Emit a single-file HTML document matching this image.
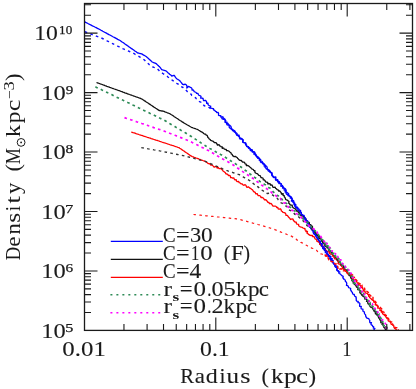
<!DOCTYPE html>
<html><head><meta charset="utf-8"><title>Density profile</title>
<style>html,body{margin:0;padding:0;background:#fff;}body{width:416px;height:389px;overflow:hidden;font-family:"Liberation Serif",serif;}svg{display:block;}</style>
</head><body>
<svg width="416" height="389" viewBox="0 0 416 389">
<rect x="0" y="0" width="416" height="389" fill="#ffffff"/>
<clipPath id="c"><rect x="84.5" y="3.5" width="328.0" height="326.9"/></clipPath>
<g clip-path="url(#c)" fill="none" stroke-linejoin="round">
<path d="M84.8,21.9 L85.7,22.4 L86.6,22.8 L87.5,23.3 L88.4,23.8 L89.3,24.2 L90.2,24.7 L91.1,25.1 L92.0,25.6 L93.0,26.1 L93.9,26.5 L94.8,27.0 L95.7,27.4 L96.6,27.9 L97.5,28.4 L98.4,28.8 L99.3,29.3 L100.2,29.8 L101.1,30.3 L102.0,30.7 L102.8,31.2 L103.7,31.7 L104.6,32.2 L105.5,32.7 L106.4,33.1 L107.2,33.6 L108.1,34.1 L109.0,34.6 L109.9,35.0 L110.8,35.5 L111.7,36.0 L112.5,36.5 L113.4,37.0 L114.3,37.4 L115.2,37.9 L116.1,38.4 L117.0,38.9 L117.8,39.4 L118.7,39.8 L119.6,40.3 L120.5,40.8 L121.3,41.4 L122.1,42.0 L123.0,42.5 L123.8,43.1 L124.6,43.7 L125.4,44.3 L126.3,44.9 L127.1,45.4 L127.9,46.0 L128.7,46.6 L129.6,47.2 L130.4,47.8 L131.2,48.4 L132.0,48.9 L132.9,49.5 L133.7,50.1 L134.5,50.7 L135.3,51.3 L136.2,51.8 L137.0,52.4 L137.8,53.0 L138.8,53.2 L139.8,53.5 L140.7,53.7 L141.7,53.9 L142.5,54.4 L143.3,54.9 L144.1,55.3 L144.9,55.8 L145.7,56.3 L146.5,56.8 L147.2,57.4 L147.9,58.1 L148.7,58.8 L149.4,59.4 L150.1,60.0 L150.9,60.7 L151.6,61.4 L152.3,62.0 L153.2,62.4 L154.2,62.8 L155.2,63.2 L156.1,63.6 L156.8,64.2 L157.5,64.9 L158.2,65.5 L158.9,66.2 L159.6,66.8 L160.3,67.7 L161.0,68.7 L161.7,69.6 L162.6,69.9 L163.5,70.2 L164.3,70.4 L165.2,70.7 L166.1,71.0 L166.8,71.6 L167.5,72.3 L168.2,72.9 L169.0,73.5 L169.6,74.3 L170.4,74.8 L171.1,75.3 L171.8,76.1 L172.9,75.7 L174.0,75.3 L174.7,76.0 L175.2,76.9 L175.7,77.6 L176.3,78.3 L177.0,79.0 L177.9,79.4 L178.7,80.0 L179.6,80.4 L180.2,81.4 L180.9,82.1 L181.5,82.8 L182.0,83.5 L182.6,84.3 L183.5,84.4 L183.9,84.8 L184.7,84.2 L185.8,84.4 L186.6,85.4 L187.0,86.1 L186.8,88.0 L188.0,86.9 L188.9,86.4 L189.8,87.1 L190.6,87.4 L191.6,88.0 L192.0,88.8 L192.0,90.0 L193.2,90.0 L193.8,90.6 L194.1,91.7 L195.1,92.0 L196.1,92.5 L196.6,93.4 L198.0,93.4 L198.3,94.6 L199.0,95.4 L200.1,95.7 L201.0,96.3 L200.7,98.1 L202.0,98.2 L203.1,98.5 L203.2,99.7 L203.7,100.7 L205.4,100.3 L206.1,101.0 L206.6,101.8 L206.6,103.3 L208.0,103.2 L208.0,104.6 L208.7,105.3 L209.6,105.8 L210.7,106.1 L210.4,107.8 L211.3,108.2 L212.4,108.5 L213.5,108.7 L213.7,110.0 L214.8,110.3 L215.3,111.3 L216.4,111.6 L216.7,112.7 L218.2,112.5 L218.6,113.5 L218.5,115.2 L219.3,115.7 L220.8,115.6 L220.8,117.0 L222.2,117.0 L221.9,118.6 L222.9,119.1 L224.0,119.5 L224.9,120.0 L225.8,120.5 L225.2,122.3 L227.1,122.1 L226.6,123.8 L227.0,124.8 L228.2,125.0 L229.4,125.3 L229.1,127.0 L229.6,127.9 L230.7,128.3 L231.7,128.8 L232.5,129.3 L233.3,130.1 L234.2,130.6 L234.2,132.0 L235.2,132.4 L236.3,132.9 L237.1,133.5 L237.0,135.0 L238.2,135.2 L238.6,136.2 L239.5,136.8 L239.5,138.2 L240.1,139.0 L242.0,138.7 L242.5,139.6 L243.0,140.6 L242.7,142.2 L243.7,142.7 L245.0,142.9 L245.9,143.4 L245.9,144.8 L246.4,145.8 L246.9,146.6 L248.4,146.6 L248.4,148.1 L249.3,148.6 L250.3,149.1 L250.3,150.5 L252.0,150.3 L252.0,151.7 L253.6,151.6 L254.2,152.5 L253.8,154.2 L255.5,154.0 L255.4,155.5 L256.3,156.1 L256.6,157.1 L258.0,157.3 L258.7,158.0 L259.4,158.7 L259.2,160.2 L260.3,160.7 L260.4,161.9 L261.1,162.6 L262.9,162.5 L262.9,163.8 L264.2,164.0 L264.9,164.7 L265.5,165.6 L265.0,167.3 L265.8,168.0 L266.3,168.8 L267.7,169.0 L267.9,170.1 L268.3,171.1 L269.5,171.3 L269.9,172.3 L271.0,172.6 L271.9,173.2 L272.3,174.1 L272.0,175.6 L273.1,176.0 L273.2,177.2 L274.5,177.3 L275.4,177.8 L275.3,179.2 L275.9,180.0 L277.7,179.7 L277.4,181.3 L278.9,181.3 L279.5,182.0 L279.0,183.7 L280.9,183.5 L281.2,184.5 L280.7,186.2 L282.1,186.4 L283.2,186.9 L283.7,187.8 L284.2,188.7 L284.1,190.0 L285.7,190.2 L285.0,191.9 L286.4,192.1 L286.1,193.6 L286.8,194.4 L288.4,194.5 L289.1,195.3 L289.3,196.3 L290.5,196.8 L290.2,198.2 L291.7,198.4 L292.3,199.2 L291.3,201.0 L292.9,201.2 L292.9,202.3 L293.7,203.0 L294.5,203.7 L295.4,204.2 L294.6,205.9 L295.1,206.7 L295.7,207.5 L297.6,207.3 L298.0,208.2 L297.9,209.4 L297.9,210.5 L299.2,210.8 L299.5,211.7 L300.1,212.5 L301.3,212.9 L301.5,214.1 L302.4,214.7 L303.1,215.5 L303.9,216.2 L304.2,217.2 L303.6,218.8 L305.1,219.1 L305.3,220.1 L305.9,221.0 L306.0,222.1 L307.4,222.4 L308.2,223.1 L308.7,224.0 L309.3,224.8 L309.0,226.2 L309.4,227.1 L310.9,227.4 L311.3,228.2 L311.5,229.3 L312.0,230.2 L312.5,231.0 L313.6,231.5 L314.5,232.2 L314.6,233.2 L315.5,233.9 L315.3,235.3 L316.6,235.6 L317.2,236.4 L316.9,237.9 L318.0,238.4 L317.8,239.8 L318.9,240.3 L318.8,241.5 L320.6,241.6 L320.5,242.9 L320.5,244.0 L322.2,244.1 L321.3,245.8 L323.0,245.9 L322.5,247.4 L322.7,248.4 L323.5,249.1 L324.8,249.5 L325.6,250.1 L325.5,251.4 L325.3,252.6 L326.9,252.8 L326.6,254.3 L328.4,254.2 L327.8,255.9 L329.8,255.7 L330.0,256.9 L329.7,258.3 L330.4,259.1 L330.7,260.1 L331.4,260.9 L332.1,261.7 L332.7,262.6 L334.1,263.0 L334.3,264.1 L335.3,264.8 L334.9,266.2 L335.5,267.1 L336.7,267.6 L337.6,268.3 L336.6,270.1 L337.4,270.9 L338.4,271.5 L338.9,272.4 L339.0,273.5 L340.2,273.9 L340.9,274.6 L341.5,275.3 L342.2,275.9 L343.2,276.4 L342.8,277.9 L343.7,278.4 L344.0,279.5 L345.3,280.0 L345.3,281.2 L346.1,281.9 L346.6,282.8 L346.8,283.8 L346.4,285.3 L347.7,285.7 L348.3,286.5 L348.6,287.6 L349.8,288.0 L350.7,288.5 L350.5,289.9 L351.2,290.7 L351.5,291.7 L352.4,292.3 L352.5,293.3 L353.0,294.2 L354.3,294.5 L354.4,295.6 L355.0,296.4 L356.0,296.9 L356.1,298.0 L356.3,299.0 L356.2,300.2 L356.6,301.1 L358.2,301.4 L358.0,302.6 L359.5,302.9 L359.9,303.8 L359.6,305.1 L359.6,306.3 L361.3,306.4 L361.0,307.9 L361.4,308.9 L362.9,309.2 L362.9,310.4 L363.1,311.5 L364.4,311.9 L364.4,313.2 L364.9,314.1 L365.6,314.9 L365.7,316.1 L366.2,317.1 L366.6,317.9 L367.7,318.3 L368.8,318.7 L369.2,319.6 L369.8,320.3 L369.7,321.5 L369.9,322.5 L371.5,322.6 L370.9,324.0 L371.4,324.9 L372.4,325.4 L372.7,326.3 L373.7,326.8 L373.3,328.2 L374.9,328.3 L373.8,330.1 L374.7,330.9" stroke="#0000ff" stroke-width="1.3"/>
<path d="M96.5,82.5 L97.4,82.8 L98.4,83.2 L99.3,83.5 L100.3,83.9 L101.2,84.2 L102.2,84.5 L103.1,84.9 L104.0,85.2 L105.0,85.6 L105.9,85.9 L106.9,86.3 L107.8,86.6 L108.8,86.9 L109.7,87.3 L110.7,87.6 L111.6,88.0 L112.5,88.3 L113.5,88.7 L114.4,89.0 L115.4,89.3 L116.3,89.7 L117.3,90.0 L118.2,90.4 L119.2,90.7 L120.1,91.0 L121.0,91.4 L122.0,91.7 L122.9,92.1 L123.9,92.4 L124.8,92.8 L125.8,93.1 L126.7,93.4 L127.6,93.8 L128.6,94.1 L129.5,94.5 L130.5,94.8 L131.4,95.1 L132.4,95.5 L133.3,95.8 L134.2,96.2 L135.2,96.5 L136.1,96.9 L137.1,97.2 L138.0,97.5 L139.0,97.9 L139.9,98.2 L140.9,98.6 L141.8,98.9 L142.6,99.5 L143.4,100.0 L144.3,100.6 L145.1,101.1 L145.9,101.7 L146.7,102.2 L147.6,102.8 L148.4,103.3 L149.2,103.9 L150.0,104.4 L150.9,105.0 L151.7,105.5 L152.5,106.1 L153.3,106.6 L154.2,107.2 L155.0,107.7 L155.8,108.3 L156.6,108.8 L157.5,109.4 L158.3,109.9 L159.1,110.5 L160.1,110.7 L161.1,110.9 L162.0,111.0 L163.0,111.2 L164.0,111.4 L164.9,111.8 L165.8,112.1 L166.7,112.5 L167.5,112.8 L168.4,113.2 L169.3,113.5 L170.2,113.9 L171.0,114.5 L171.9,115.0 L172.7,115.5 L173.5,116.1 L174.3,116.7 L175.2,117.2 L176.0,117.8 L176.8,118.3 L177.7,118.8 L178.5,119.4 L179.3,120.0 L180.1,120.5 L181.0,121.0 L181.8,121.6 L182.7,122.1 L183.5,122.6 L184.4,123.2 L185.3,123.7 L186.2,124.2 L187.0,124.7 L187.9,125.2 L188.8,125.7 L189.7,126.3 L190.5,126.8 L191.4,127.3 L192.4,127.6 L193.3,128.0 L194.3,128.3 L195.3,128.6 L196.2,129.0 L197.2,129.3 L198.0,129.8 L198.8,130.3 L199.7,130.8 L200.5,131.4 L201.4,131.8 L202.2,132.2 L203.0,132.8 L203.7,133.5 L204.5,134.1 L205.6,134.2 L206.2,135.1 L207.2,135.4 L207.6,136.5 L207.9,137.5 L208.7,138.1 L209.2,139.0 L210.1,139.5 L210.7,140.3 L211.6,140.7 L212.6,141.1 L213.6,141.4 L214.1,142.6 L215.3,142.6 L216.3,142.9 L216.9,143.9 L217.5,145.1 L219.0,144.6 L219.5,145.8 L220.6,146.1 L221.2,146.8 L222.3,146.8 L222.3,148.4 L223.7,148.0 L224.2,149.0 L225.1,149.3 L226.2,149.3 L226.5,150.6 L227.7,150.6 L228.6,151.0 L229.4,151.6 L230.1,152.3 L231.0,152.8 L231.3,154.0 L232.2,154.4 L232.6,155.6 L233.4,156.1 L234.1,156.7 L235.6,156.3 L236.3,157.2 L237.2,157.5 L237.7,158.5 L238.5,159.1 L239.1,159.9 L240.0,160.4 L241.2,160.5 L241.9,161.3 L242.6,162.1 L243.9,162.1 L244.7,162.8 L245.1,163.9 L246.2,164.2 L246.4,165.6 L247.7,165.5 L248.6,165.9 L249.3,166.5 L250.1,167.2 L250.9,167.7 L251.4,168.7 L252.3,169.1 L253.3,169.5 L253.8,170.5 L254.9,170.7 L254.9,172.2 L255.5,173.0 L256.5,173.4 L257.6,173.8 L258.2,174.6 L258.8,175.4 L260.2,175.6 L260.5,176.7 L261.1,177.5 L262.2,177.8 L263.1,178.3 L263.2,179.8 L264.4,179.9 L265.1,180.7 L265.5,181.9 L266.6,182.1 L267.7,182.4 L267.8,183.9 L269.2,183.7 L270.3,183.8 L270.5,185.2 L271.9,185.0 L272.5,185.8 L272.8,187.1 L273.7,187.4 L275.2,187.1 L275.5,188.2 L276.4,188.8 L277.1,189.6 L278.2,189.9 L278.6,191.0 L279.9,191.0 L280.5,191.9 L281.2,192.7 L281.4,194.0 L283.2,193.7 L282.9,195.2 L284.2,195.6 L284.2,196.8 L285.0,197.5 L285.4,198.4 L285.6,199.5 L286.7,199.9 L287.6,200.3 L288.3,201.0 L289.0,201.6 L288.7,203.2 L289.6,203.7 L289.9,204.7 L290.8,205.1 L292.2,205.1 L292.3,206.5 L292.9,207.4 L293.7,208.1 L294.7,208.5 L295.5,209.1 L296.2,210.0 L296.5,211.1 L297.9,211.2 L298.3,212.2 L299.1,212.8 L299.3,214.1 L300.2,214.6 L300.8,215.4 L301.7,215.9 L303.0,216.0 L303.8,216.6 L304.2,217.6 L305.2,218.0 L305.8,218.8 L306.2,219.8 L306.4,220.8 L307.4,221.2 L307.7,222.2 L309.2,222.3 L309.4,223.3 L309.2,224.7 L310.8,224.6 L311.0,225.7 L312.1,226.1 L312.6,227.1 L312.0,228.7 L312.4,229.6 L313.4,230.3 L314.7,230.8 L315.0,231.8 L315.6,232.5 L315.7,233.6 L316.3,234.3 L317.2,234.8 L317.7,235.6 L318.8,235.9 L318.8,237.0 L318.9,238.2 L319.8,238.8 L321.2,238.8 L321.3,240.0 L321.6,241.0 L322.8,241.3 L322.6,242.6 L323.7,243.0 L324.0,244.0 L325.0,244.5 L324.8,245.8 L325.7,246.4 L326.6,247.0 L327.7,247.3 L327.9,248.4 L329.0,248.8 L328.9,250.1 L329.2,251.1 L330.7,251.1 L330.9,252.2 L331.6,252.9 L332.3,253.5 L332.6,254.6 L332.9,255.5 L333.9,256.0 L334.8,256.5 L334.8,257.7 L336.2,257.8 L336.3,258.9 L337.0,259.5 L337.5,260.4 L338.0,261.2 L339.4,261.2 L339.6,262.4 L340.5,263.0 L340.8,264.1 L341.0,265.2 L342.1,265.7 L343.5,265.9 L343.6,267.2 L343.9,268.2 L344.3,269.2 L345.3,269.8 L345.7,270.7 L347.3,270.8 L346.8,272.5 L347.7,273.1 L348.4,273.8 L348.7,274.9 L349.3,275.7 L350.9,276.0 L350.6,277.4 L351.0,278.3 L352.3,278.9 L351.9,280.2 L352.5,281.0 L353.5,281.6 L353.1,283.0 L354.6,283.3 L354.6,284.5 L355.4,285.1 L356.2,285.7 L356.4,286.8 L357.1,287.5 L358.1,288.1 L357.7,289.7 L359.5,289.8 L360.2,290.7 L360.1,292.0 L360.3,293.2 L361.2,293.9 L361.7,294.9 L362.8,295.5 L363.2,296.5 L364.3,297.0 L365.0,297.8 L365.2,298.8 L366.4,299.2 L366.9,300.0 L366.5,301.4 L367.9,301.7 L367.7,303.0 L368.2,303.9 L369.2,304.3 L369.5,305.4 L370.0,306.3 L370.6,307.2 L372.1,307.3 L372.7,308.1 L373.1,309.2 L373.6,310.1 L374.5,310.7 L375.4,311.3 L375.4,312.6 L375.4,313.8 L376.8,314.1 L377.2,315.1 L378.0,315.8 L378.6,316.7 L378.5,317.9 L379.7,318.4 L379.7,319.6 L380.5,320.5 L380.9,321.4 L380.8,322.7 L382.5,323.0 L382.0,324.5 L383.3,324.9 L383.4,326.1 L383.7,327.1 L384.4,327.9 L385.3,328.5 L385.3,329.8 L386.9,330.1" stroke="#111111" stroke-width="1.3"/>
<path d="M131.2,132.0 L132.2,132.3 L133.1,132.6 L134.1,132.9 L135.0,133.2 L136.0,133.6 L136.9,133.9 L137.9,134.2 L138.8,134.5 L139.8,134.8 L140.7,135.1 L141.7,135.4 L142.6,135.7 L143.6,136.1 L144.6,136.4 L145.5,136.7 L146.5,137.0 L147.4,137.3 L148.4,137.6 L149.3,137.9 L150.3,138.2 L151.2,138.6 L152.2,138.9 L153.1,139.2 L154.1,139.5 L155.1,139.8 L156.0,140.1 L157.0,140.4 L157.9,140.7 L158.9,141.0 L159.8,141.4 L160.8,141.7 L161.7,142.0 L162.7,142.3 L163.6,142.6 L164.6,142.9 L165.5,143.2 L166.5,143.5 L167.5,143.9 L168.4,144.2 L169.4,144.5 L170.3,144.8 L171.3,145.1 L172.2,145.4 L173.2,145.7 L174.1,146.0 L175.1,146.4 L176.0,146.7 L177.0,147.0 L177.9,147.3 L178.9,147.6 L179.7,148.2 L180.6,148.7 L181.4,149.3 L182.2,149.9 L183.1,150.5 L183.9,151.0 L184.7,151.6 L185.6,152.2 L186.4,152.8 L187.2,153.3 L188.1,153.9 L188.9,154.5 L189.7,155.1 L190.6,155.6 L191.4,156.2 L192.3,156.6 L193.3,156.9 L194.2,157.3 L195.2,157.6 L196.2,158.0 L197.1,158.3 L198.1,158.7 L199.0,159.1 L199.9,159.4 L200.9,159.8 L201.8,160.1 L202.8,160.5 L203.8,160.8 L204.7,161.2 L205.6,161.8 L206.4,162.3 L207.3,162.8 L208.1,163.5 L209.1,163.7 L210.1,164.1 L210.8,165.0 L211.9,165.0 L212.7,165.6 L213.5,166.4 L214.2,167.2 L215.4,166.6 L216.4,166.6 L217.1,168.1 L218.2,167.4 L218.9,168.5 L219.8,168.6 L221.0,168.5 L221.7,169.3 L222.4,170.0 L223.0,170.9 L223.8,171.5 L224.7,172.1 L225.4,172.8 L225.8,173.9 L227.0,174.0 L227.9,174.6 L228.4,175.5 L229.6,175.5 L230.4,176.1 L230.6,177.6 L231.8,177.6 L232.6,178.2 L233.9,178.0 L234.3,179.1 L234.9,179.9 L236.2,179.7 L236.5,181.1 L237.3,181.7 L238.7,181.4 L239.2,182.7 L240.2,183.0 L241.0,183.8 L242.2,183.8 L242.8,184.8 L243.7,185.3 L245.1,184.7 L245.9,185.2 L246.4,186.6 L247.0,187.4 L248.4,186.8 L249.2,187.6 L249.9,188.2 L250.9,188.6 L251.6,189.3 L252.5,189.9 L253.1,190.7 L253.6,191.7 L254.7,192.0 L255.4,192.8 L255.7,193.9 L257.3,193.6 L257.7,194.9 L258.4,195.7 L259.7,195.7 L260.6,196.2 L261.0,197.6 L262.3,197.5 L263.2,198.0 L263.9,198.9 L264.5,199.9 L265.9,199.7 L266.5,200.6 L267.4,201.2 L267.8,202.4 L269.0,202.5 L269.5,203.7 L271.0,203.4 L271.7,204.2 L272.3,205.2 L273.0,206.1 L274.2,206.1 L275.3,206.2 L276.2,206.5 L276.7,207.5 L277.8,207.5 L278.2,208.8 L279.0,209.2 L280.4,208.8 L281.1,209.6 L281.4,211.0 L282.3,211.5 L283.0,212.4 L284.3,212.6 L285.3,213.1 L285.8,214.0 L286.0,215.3 L287.3,215.4 L287.9,216.2 L288.5,217.0 L289.2,217.7 L289.9,218.4 L290.5,219.5 L292.0,218.9 L293.1,219.1 L293.5,220.9 L294.4,221.2 L295.0,222.1 L296.3,222.2 L296.4,223.5 L297.1,224.2 L298.6,224.3 L298.7,225.6 L299.3,226.5 L300.3,226.8 L301.3,227.2 L302.3,227.4 L303.0,228.0 L304.0,228.3 L305.0,228.7 L305.0,230.0 L306.0,230.4 L305.9,231.6 L307.5,231.5 L307.0,233.2 L307.9,233.6 L308.5,234.4 L309.4,234.9 L310.2,235.4 L311.2,235.5 L312.5,235.3 L312.7,236.7 L314.0,236.7 L314.6,237.6 L314.9,238.7 L315.8,239.2 L316.7,239.8 L316.8,241.2 L317.8,241.6 L318.8,242.1 L319.6,242.8 L319.6,244.3 L320.7,244.7 L321.1,245.8 L322.3,246.0 L323.2,246.4 L323.6,247.5 L324.1,248.5 L325.5,248.4 L325.6,249.8 L326.2,250.6 L327.1,251.1 L327.8,251.8 L329.4,251.6 L329.5,253.0 L329.9,254.0 L331.6,253.8 L332.1,254.7 L332.7,255.5 L333.0,256.5 L333.8,257.1 L334.3,257.9 L334.6,258.9 L336.2,258.8 L336.7,259.6 L337.3,260.4 L337.9,261.2 L338.5,261.9 L338.0,263.5 L338.8,264.1 L340.3,264.1 L340.4,265.3 L341.2,265.8 L341.9,266.6 L342.5,267.5 L342.7,268.5 L343.5,269.3 L344.4,269.9 L345.2,270.5 L345.7,271.4 L346.7,271.8 L347.0,272.9 L347.7,273.8 L348.8,274.0 L349.9,274.3 L350.6,275.2 L351.2,276.1 L351.7,277.1 L352.2,278.1 L353.4,278.3 L353.7,279.5 L354.7,280.1 L355.6,280.6 L356.4,281.3 L356.9,282.1 L357.3,283.0 L358.2,283.5 L358.5,284.5 L359.4,284.9 L360.3,285.4 L360.6,286.4 L361.0,287.3 L362.4,287.4 L362.6,288.5 L363.2,289.2 L363.3,290.4 L363.8,291.2 L365.1,291.3 L365.1,292.6 L365.9,293.2 L367.2,293.3 L367.7,294.3 L368.7,294.6 L368.5,296.1 L369.3,296.6 L369.7,297.6 L370.4,298.2 L371.2,298.8 L371.7,299.6 L372.5,300.2 L373.7,300.6 L373.7,302.0 L375.1,302.3 L375.5,303.3 L375.2,304.8 L376.8,305.0 L377.3,305.9 L378.0,306.6 L377.7,308.2 L379.2,308.2 L380.1,308.8 L379.8,310.4 L381.4,310.4 L381.2,311.9 L382.1,312.4 L382.6,313.4 L383.0,314.2 L384.1,314.6 L384.4,315.5 L386.0,315.5 L385.7,317.0 L386.6,317.5 L386.9,318.5 L388.3,318.8 L388.1,320.2 L388.5,321.2 L390.2,321.2 L390.5,322.3 L390.9,323.4 L391.2,324.4 L392.6,324.6 L393.3,325.4 L393.8,326.2 L394.0,327.4 L394.5,328.3 L395.6,328.8 L396.2,329.6 L396.8,330.5" stroke="#ff0000" stroke-width="1.3"/>
<path d="M84.8,31.8 L86.2,32.3 L87.5,32.8 L88.9,33.3 L90.3,33.8 L91.6,34.3 L93.0,34.9 L94.4,35.4 L95.7,35.9 L97.1,36.4 L98.5,36.9 L99.8,37.4 L101.2,37.9 L102.5,38.5 L103.7,39.2 L105.0,39.8 L106.2,40.4 L107.5,41.1 L108.8,41.7 L110.0,42.3 L111.3,43.0 L112.6,43.6 L113.8,44.2 L115.1,44.8 L116.4,45.5 L117.6,46.1 L118.9,46.7 L120.1,47.4 L121.4,48.0 L122.7,48.6 L124.0,49.1 L125.2,49.7 L126.5,50.2 L127.8,50.8 L129.1,51.3 L130.3,51.9 L131.6,52.4 L132.9,53.0 L134.2,53.7 L135.4,54.5 L136.7,55.2 L137.9,55.9 L139.2,56.6 L140.4,57.3 L141.7,58.1 L143.0,58.8 L144.1,59.8 L145.2,60.8 L146.2,61.8 L147.3,62.8 L148.4,63.8 L149.4,64.8 L150.5,65.7 L151.6,66.7 L152.9,67.0 L154.1,67.4 L155.4,67.8 L156.7,68.1 L157.8,69.2 L158.8,70.3 L159.9,71.4 L161.0,72.5 L162.3,73.2 L163.6,74.0 L164.8,74.7 L166.1,75.4 L167.2,76.3 L168.2,77.2 L169.3,78.1 L170.4,79.0 L171.5,79.7 L172.6,80.4 L173.6,81.1 L174.7,81.9 L175.7,82.5 L176.7,83.3 L177.8,83.9 L178.8,84.7 L179.8,85.5 L180.9,86.2 L181.9,87.0 L183.1,87.5 L184.1,88.2 L184.9,89.3 L185.9,90.1 L186.8,91.0 L187.7,91.9 L188.6,93.0 L189.8,93.6 L191.1,94.2 L191.8,95.4 L193.1,96.0 L194.1,96.9 L195.3,97.6 L196.2,98.6 L197.4,99.4 L198.6,100.3 L199.5,101.6 L200.9,102.2 L201.6,103.6 L203.1,104.0 L203.9,105.5 L205.2,106.1 L206.7,106.5 L207.9,107.3 L209.4,107.6 L210.6,108.6 L212.0,108.9" stroke="#1010ff" stroke-width="1.45" stroke-dasharray="2.6 3.3"/>
<path d="M222.3,116.5 L223.1,117.1 L223.3,118.2 L224.3,118.7 L225.1,119.3 L225.2,120.5 L225.1,121.9 L225.9,122.6 L226.6,123.3 L228.1,123.4 L228.2,124.5 L229.3,125.0 L230.1,125.6 L230.8,126.3 L231.3,127.2 L231.0,128.9 L231.8,129.5 L232.5,130.2 L233.2,131.0 L234.8,130.9 L235.3,131.8 L235.6,133.0 L236.1,133.9 L236.6,134.8 L237.3,135.6 L239.1,135.2 L239.1,136.7 L239.6,137.5 L240.6,138.1 L241.7,138.4 L242.0,139.5 L243.3,139.8 L242.7,141.7 L243.5,142.3 L244.6,142.7 L245.7,143.1 L245.5,144.7 L246.6,145.0 L246.9,146.1 L247.6,146.9 L248.8,147.2 L249.6,147.8 L250.0,148.8 L251.0,149.3 L252.1,149.7 L252.5,150.7 L252.5,152.1 L254.3,151.8 L255.0,152.6 L254.8,154.1 L256.0,154.4 L256.3,155.5 L257.1,156.2 L258.0,156.8 L257.7,158.4 L259.6,158.1 L259.9,159.2 L260.8,159.7 L260.8,161.0 L262.0,161.4 L262.5,162.3 L262.6,163.5 L263.9,163.8 L264.1,164.9 L264.2,166.1 L266.1,165.9 L266.8,166.6 L267.2,167.6 L267.0,169.1 L267.9,169.7 L269.1,170.0 L269.6,170.8 L270.5,171.4 L270.7,172.5 L271.9,172.6 L271.6,174.2 L271.9,175.2 L272.5,176.1 L273.4,176.5 L273.7,177.5 L275.8,177.0 L276.0,178.1 L275.6,179.8 L276.6,180.2 L277.8,180.5 L277.6,181.9 L278.7,182.2 L279.0,183.2 L280.5,183.3 L281.3,183.9 L281.5,185.1 L282.6,185.5 L282.8,186.6 L282.5,188.1 L284.1,188.2 L285.2,188.7 L285.8,189.5 L286.2,190.5 L285.8,192.1 L287.1,192.4 L287.8,193.1 L288.7,193.7 L287.9,195.6 L289.4,195.8 L290.4,196.3 L291.2,197.0 L291.8,197.8 L292.1,198.8 L291.8,200.2 L293.2,200.5 L293.9,201.2 L293.7,202.5 L294.7,203.1 L293.9,204.7 L295.9,204.6 L295.8,205.8 L296.0,206.8 L297.1,207.2 L296.8,208.6 L298.2,208.8 L299.1,209.2 L299.4,210.2 L300.6,210.5 L300.5,211.7 L301.4,212.4 L300.9,213.9 L301.6,214.7 L302.7,215.2 L304.1,215.5 L304.3,216.6 L304.9,217.5 L305.5,218.3 L306.0,219.1 L305.5,220.7 L307.3,220.7 L308.0,221.4 L307.2,223.3 L308.3,223.7 L308.2,225.0 L309.8,225.2 L309.4,226.6 L310.4,227.2 L310.7,228.2 L311.3,229.0 L312.2,229.5 L313.4,230.0 L313.7,230.9 L313.1,232.5 L313.6,233.4 L314.1,234.3 L315.7,234.5 L315.7,235.7 L316.0,236.7 L316.9,237.4 L317.2,238.4 L318.2,238.9 L318.6,239.9 L319.1,240.8 L320.4,241.2 L319.9,242.8 L320.3,243.6 L322.3,243.6 L321.3,245.3 L321.8,246.2 L322.8,246.7 L324.4,246.9 L323.4,248.7 L325.2,248.7 L324.3,250.4 L325.3,251.0 L326.8,251.2 L327.2,252.1 L327.0,253.5 L327.7,254.2 L328.0,255.2 L328.4,256.3 L330.1,256.2 L331.1,256.8 L330.2,258.7 L332.3,258.6 L331.4,260.4 L333.2,260.5 L332.6,262.1 L333.2,263.0 L333.6,264.0 L334.7,264.6 L334.7,265.8 L336.4,266.0 L336.1,267.4 L337.2,268.0 L336.8,269.4 L337.5,270.2 L338.6,270.8 L339.0,271.8 L340.4,272.2" stroke="#0000ff" stroke-width="1.3"/>
<path d="M141.3,147.6 L142.7,147.9 L144.1,148.1 L145.5,148.4 L147.0,148.6 L148.4,148.9 L149.8,149.1 L151.2,149.4 L152.6,149.6 L154.0,149.9 L155.4,150.1 L156.8,150.4 L158.3,150.6 L159.7,150.9 L161.1,151.1 L162.5,151.4 L163.9,151.7 L165.3,152.0 L166.6,152.2 L168.0,152.5 L169.4,152.8 L170.8,153.1 L172.2,153.4 L173.5,153.6 L174.9,153.9 L176.3,154.2 L177.7,154.5 L179.0,154.7 L180.4,155.0 L181.8,155.3 L183.1,155.6 L184.4,155.9 L185.7,156.3 L187.0,156.6 L188.2,156.9 L189.5,157.2 L190.8,157.6 L192.1,157.9 L193.4,158.2 L194.8,158.6 L196.2,158.9 L197.6,159.3 L199.1,159.7 L200.5,160.1 L201.9,160.4 L203.3,160.8 L204.7,161.2 L206.0,161.7 L207.3,162.3 L208.5,162.8 L209.8,163.4 L211.1,163.9 L212.4,164.5 L213.6,165.0 L214.9,165.6 L216.2,166.1 L217.5,166.6 L218.8,167.2 L220.1,167.7 L221.4,168.2 L222.6,168.8 L223.9,169.3 L225.2,169.8 L226.5,170.4 L227.8,170.9 L229.1,171.3 L230.4,171.7 L231.7,172.2 L233.0,172.6 L234.2,173.0 L235.5,173.4 L236.8,173.9 L238.1,174.3 L239.4,174.7 L240.6,175.4 L241.8,176.1 L243.0,176.8 L244.1,177.5 L245.4,178.1 L246.5,178.9 L247.8,179.5 L249.0,180.2 L250.0,180.9 L250.7,182.0 L251.9,182.5 L253.1,183.4 L254.2,184.2 L255.2,185.3 L256.7,185.6 L257.6,186.6 L258.6,187.4 L259.5,188.4 L260.5,189.2 L261.6,190.2 L263.0,190.6 L263.9,191.6 L265.2,192.0 L266.1,193.0 L267.3,193.5 L269.1,193.2 L270.5,193.8 L271.9,194.5 L273.1,195.3 L274.2,196.4 L275.3,197.3 L276.5,197.9 L277.6,198.6 L278.2,199.8 L279.1,200.7 L280.2,201.7 L281.1,202.8 L282.5,203.4 L283.5,204.1 L284.4,205.0 L285.3,205.9 L286.8,206.2 L287.1,207.8 L288.1,208.5 L288.9,209.5 L289.9,210.4 L291.2,210.9 L292.4,211.9 L293.8,212.7 L294.6,214.2 L296.1,214.6 L297.1,215.5 L298.1,216.5 L299.2,217.4 L300.1,218.5 L301.4,219.1 L302.4,220.0 L303.3,221.1 L304.3,221.9 L305.1,223.1 L306.4,223.7 L306.7,225.4 L307.9,226.1 L309.3,226.6 L310.3,227.5 L311.3,228.5 L312.3,229.4 L313.6,230.1 L314.1,231.6 L315.0,232.6 L316.3,233.2 L317.1,234.2 L318.3,234.9 L319.1,235.9 L319.7,237.1 L320.8,238.2 L321.2,239.8 L322.8,240.5 L323.9,241.6 L324.0,243.5" stroke="#333333" stroke-width="1.4" stroke-dasharray="2.6 3.3"/>
<path d="M193.5,214.5 L194.9,214.6 L196.3,214.8 L197.7,214.9 L199.1,215.1 L200.4,215.2 L201.8,215.3 L203.2,215.5 L204.6,215.6 L206.0,215.8 L207.4,215.9 L208.8,216.0 L210.2,216.2 L211.6,216.3 L212.9,216.4 L214.3,216.6 L215.7,216.7 L217.1,216.9 L218.5,217.0 L219.9,217.1 L221.3,217.3 L222.6,217.4 L224.0,217.6 L225.4,217.7 L226.8,217.9 L228.2,218.0 L229.5,218.1 L230.9,218.3 L232.3,218.4 L233.7,218.6 L235.0,218.7 L236.4,218.9 L237.8,219.0 L239.2,219.4 L240.6,219.7 L241.9,220.1 L243.3,220.5 L244.7,220.8 L246.1,221.2 L247.5,221.6 L248.8,222.0 L250.2,222.3 L251.6,222.7 L252.9,223.1 L254.2,223.4 L255.4,223.8 L256.7,224.1 L258.0,224.5 L259.3,224.8 L260.5,225.2 L261.8,225.5 L263.1,225.9 L264.5,226.3 L265.9,226.7 L267.3,227.1 L268.6,227.6 L270.0,228.0 L271.4,228.4 L272.8,228.8 L274.2,229.3 L275.5,229.9 L276.9,230.4 L278.3,231.0 L279.7,231.5 L281.0,232.1 L282.4,232.6 L283.7,233.1 L285.1,233.7 L286.4,234.2 L287.8,234.8 L289.1,235.3 L290.5,235.8 L291.8,236.4 L292.9,237.1 L293.9,237.9 L295.0,238.7 L296.2,239.2 L297.1,240.1 L298.5,240.7 L299.8,241.2 L300.8,242.4 L302.2,242.9 L303.6,243.6 L304.9,244.6 L306.4,245.3 L307.7,246.0 L309.1,246.6 L310.5,247.2 L311.7,248.2 L313.1,248.5 L314.5,249.0 L315.8,249.8 L317.0,250.7 L317.8,252.1 L319.1,252.8 L320.2,253.9 L321.8,254.0 L323.1,254.7 L324.3,255.6 L326.0,255.1 L327.0,255.8 L327.8,256.8" stroke="#ff1818" stroke-width="1.25" stroke-dasharray="2.5 3.4"/>
<path d="M95.4,86.8 L96.6,87.4 L97.9,88.0 L99.1,88.6 L100.4,89.2 L101.6,89.8 L102.9,90.4 L104.1,91.0 L105.3,91.6 L106.6,92.2 L107.8,92.8 L109.1,93.4 L110.3,94.0 L111.6,94.6 L112.8,95.2 L114.0,95.9 L115.3,96.5 L116.5,97.1 L117.8,97.7 L119.0,98.3 L120.3,98.9 L121.5,99.5 L122.7,100.1 L124.0,100.7 L125.2,101.3 L126.5,101.9 L127.7,102.5 L129.0,103.1 L130.2,103.7 L131.5,104.3 L132.7,104.9 L134.0,105.5 L135.2,106.1 L136.5,106.7 L137.7,107.3 L139.0,108.0 L140.2,108.6 L141.5,109.2 L142.7,109.8 L144.0,110.4 L145.2,111.0 L146.5,111.6 L147.7,112.2 L149.0,112.8 L150.2,113.4 L151.5,114.0 L152.7,114.6 L154.0,115.2 L155.2,115.8 L156.5,116.5 L157.7,117.1 L159.0,117.7 L160.2,118.3 L161.5,118.9 L162.7,119.5 L164.0,120.1 L165.2,120.8 L166.4,121.5 L167.6,122.3 L168.8,123.0 L170.0,123.7 L171.2,124.4 L172.4,125.1 L173.6,125.9 L174.8,126.6 L176.0,127.3 L177.3,128.0 L178.5,128.7 L179.7,129.4 L180.9,130.2 L182.1,130.9 L183.3,131.6 L184.5,132.3 L185.7,133.0 L186.9,133.8 L188.1,134.5 L189.3,135.2 L190.5,136.0 L191.7,136.8 L192.9,137.6 L194.1,138.3 L195.3,139.1 L196.5,139.9 L197.7,140.7 L198.9,141.5 L200.1,142.3 L201.3,143.1 L202.5,143.9 L203.7,144.7 L204.9,145.4 L206.1,146.2 L207.3,147.0 L208.5,147.8 L209.7,148.5 L210.9,149.1 L212.1,149.8 L213.3,150.4 L214.5,151.1 L215.7,151.8 L216.9,152.4 L218.1,153.1 L219.3,153.7 L220.5,154.4 L221.7,155.0 L222.9,155.7 L224.1,156.5 L225.3,157.3 L226.5,158.1 L227.7,158.8 L228.9,159.6 L230.1,160.4 L231.3,161.2 L232.5,162.0 L233.7,162.7 L234.9,163.4 L236.1,164.2 L237.3,164.9 L238.6,165.6 L239.8,166.4 L241.0,167.1 L242.2,167.8 L243.3,168.7 L244.4,169.6 L245.5,170.5 L246.7,171.3 L247.8,172.2 L248.9,173.1 L250.0,174.0 L251.2,174.8 L252.4,175.7 L253.6,176.5 L254.8,177.4 L256.0,178.2 L257.3,179.0 L258.4,180.0 L259.5,181.1 L260.7,182.0 L262.0,182.8 L263.3,183.6 L264.6,184.4 L265.8,185.0 L266.8,185.8 L267.6,186.9 L268.6,187.6 L270.0,188.0 L270.7,189.3 L271.7,190.3 L272.8,191.3 L273.8,192.3 L274.8,193.4 L276.1,194.1 L276.8,195.3 L278.2,195.8 L279.0,196.9 L279.8,198.0 L280.8,198.9 L282.2,199.4 L282.7,201.1 L284.0,201.9 L285.2,202.9 L286.7,203.5 L287.4,205.0 L288.8,205.7 L289.7,207.0 L291.1,207.7 L292.1,208.9 L293.2,209.7 L294.1,210.7 L295.4,211.2 L296.2,212.4 L297.1,213.4 L298.0,214.4 L299.6,214.9 L300.3,216.4 L301.4,217.4 L302.7,218.2 L303.6,219.4 L304.6,220.5 L306.0,221.2 L307.0,222.3 L308.3,223.1 L308.7,224.7 L309.6,225.9 L311.0,226.6 L311.8,227.8 L312.8,228.9 L313.8,230.0 L315.3,230.7 L315.7,232.2 L316.8,233.1 L317.5,234.1 L318.6,234.9 L319.2,236.1 L319.9,237.2 L321.0,238.3 L321.9,239.6 L323.5,240.2 L324.4,241.5 L325.1,243.0" stroke="#2e8b57" stroke-width="1.7" stroke-dasharray="2.6 3.3"/>
<path d="M124.5,117.6 L125.8,118.1 L127.2,118.5 L128.5,119.0 L129.8,119.4 L131.2,119.9 L132.5,120.3 L133.8,120.8 L135.2,121.2 L136.5,121.7 L137.8,122.1 L139.2,122.6 L140.5,123.0 L141.8,123.5 L143.2,123.9 L144.5,124.4 L145.8,124.9 L147.2,125.3 L148.5,125.8 L149.8,126.2 L151.2,126.7 L152.5,127.1 L153.8,127.6 L155.2,128.0 L156.5,128.5 L157.8,128.9 L159.2,129.4 L160.5,129.8 L161.8,130.3 L163.2,130.7 L164.5,131.2 L165.8,131.7 L167.1,132.2 L168.4,132.7 L169.7,133.3 L171.0,133.8 L172.3,134.3 L173.6,134.8 L174.9,135.3 L176.2,135.8 L177.6,136.4 L178.9,136.9 L180.2,137.4 L181.5,137.9 L182.8,138.4 L184.1,138.9 L185.4,139.5 L186.7,140.0 L188.0,140.5 L189.3,141.0 L190.6,141.6 L191.9,142.3 L193.1,142.9 L194.4,143.6 L195.7,144.2 L197.0,144.8 L198.3,145.5 L199.5,146.1 L200.8,146.8 L202.1,147.4 L203.4,148.0 L204.7,148.7 L205.9,149.3 L207.2,150.0 L208.5,150.6 L209.8,151.3 L211.0,152.1 L212.3,152.8 L213.5,153.5 L214.8,154.3 L216.0,155.0 L217.3,155.8 L218.5,156.5 L219.8,157.2 L221.0,158.0 L222.3,158.7 L223.6,159.4 L224.9,160.1 L226.1,160.9 L227.4,161.6 L228.7,162.3 L229.9,163.1 L231.2,163.8 L232.5,164.5 L233.6,165.3 L234.8,166.1 L235.9,166.9 L237.0,167.7 L238.2,168.5 L239.3,169.2 L240.5,170.0 L241.6,170.8 L242.7,171.6 L243.9,172.4 L245.0,173.2 L246.2,174.0 L247.5,174.8 L248.8,175.7 L250.0,176.5 L251.2,177.2 L252.4,178.0 L253.6,178.8 L254.8,179.6 L255.9,180.5 L256.9,181.5 L258.1,182.4 L259.3,183.2 L260.4,184.2 L261.5,185.1 L262.7,185.7 L263.6,186.5 L264.7,187.2 L265.6,188.3 L266.9,188.8 L267.8,189.8 L268.7,190.9 L269.9,191.7 L271.3,192.1 L272.2,193.1 L273.5,193.6 L274.6,194.5 L275.7,195.4 L276.6,196.5 L277.6,197.4 L279.2,197.6 L280.4,198.4 L281.0,199.9 L282.4,200.6 L283.4,201.4 L283.9,203.0 L285.5,203.2 L286.0,204.6 L287.2,205.2 L287.7,206.6 L288.7,207.4 L290.2,207.6 L291.2,208.6 L291.7,210.1 L293.1,210.7 L294.3,211.4 L295.1,212.6 L296.0,213.5 L297.2,214.1 L298.2,214.9 L299.5,215.5 L300.2,216.6 L301.3,217.3 L301.9,218.6 L302.9,219.6 L304.3,220.2 L304.9,221.6 L306.3,222.2 L307.3,223.2 L307.9,224.6 L309.0,225.5 L309.8,226.8 L311.2,227.5 L312.3,228.5 L313.9,228.9 L314.5,230.5 L316.3,230.7 L317.0,232.1 L317.6,233.3 L318.4,234.3 L319.3,235.3 L320.5,236.0 L321.1,237.1 L322.0,238.4 L323.6,239.1 L323.8,240.9 L324.8,242.1 L326.2,243.0" stroke="#ff00ff" stroke-width="1.7" stroke-dasharray="2.6 3.3"/>
<path d="M324.4,243.2 L324.8,244.7 L325.5,246.0 L327.4,246.5 L327.6,248.2 L328.5,249.3 L329.5,250.4 L331.1,250.7 L332.0,251.6 L332.4,253.0 L332.8,254.4 L334.3,254.7 L334.8,256.0 L336.0,256.9 L336.3,258.7 L337.2,259.9 L338.9,260.4 L339.1,262.3 L341.3,262.3 L341.1,264.2 L341.8,265.4 L343.7,265.6 L343.8,267.3 L344.8,268.3 L345.1,269.8 L347.0,270.0 L347.3,271.5 L347.7,273.0 L348.9,273.8 L350.2,274.5 L351.4,275.6 L351.0,277.8 L352.4,278.8 L352.1,280.6 L354.1,281.3 L353.7,283.3 L354.6,284.5 L355.4,285.8 L357.6,286.0 L358.0,287.6 L359.2,288.3 L358.9,290.1 L360.2,290.8 L360.0,292.5 L361.6,293.0 L361.9,294.5 L362.6,295.7 L364.3,296.0 L364.7,297.5 L365.0,299.1 L366.4,299.8 L367.5,300.9 L368.5,302.0 L368.5,303.7 L370.2,304.3 L370.5,305.8 L371.4,306.8 L372.3,307.9 L373.7,308.5 L373.8,310.2 L374.3,311.6 L376.0,312.1 L376.9,313.2 L376.9,315.0 L378.2,315.8 L379.5,316.7 L380.6,317.8 L380.2,319.7 L381.5,320.7 L382.0,322.2 L383.0,323.3 L383.1,324.8 L383.7,326.1 L385.1,326.9 L386.2,327.8 L385.5,329.9 L386.4,331.0" stroke="#2a2a2a" stroke-width="1.5" stroke-dasharray="2.2 2.2"/>
<path d="M325.1,254.4 L325.4,255.9 L326.7,256.2 L327.9,256.8 L328.3,258.6 L329.2,260.1 L330.4,260.8 L331.6,261.5 L333.0,261.8 L334.2,262.5 L334.9,264.0 L336.5,264.1 L337.2,265.3 L337.6,266.6 L338.1,268.0 L338.7,269.4 L341.0,268.8 L342.4,269.3 L343.2,270.7 L344.5,270.8 L346.1,270.6 L346.8,271.9 L347.6,273.0 L348.6,273.7 L350.4,273.6 L351.3,274.5 L352.6,275.0 L352.3,277.4 L354.3,277.2 L354.6,278.9 L355.8,279.6 L356.7,280.6 L357.8,281.4 L358.2,282.8 L359.4,283.5 L360.7,284.1 L361.8,284.9 L362.1,286.4 L362.5,288.1 L364.6,288.3 L364.8,290.1 L365.9,291.2 L367.6,291.7 L368.4,292.7 L368.6,294.3 L369.9,294.9 L370.8,295.9 L371.6,297.0 L373.0,297.5 L372.9,299.3 L374.0,300.2 L374.9,301.4 L376.0,302.4 L376.1,304.2 L376.9,305.4 L378.2,306.4 L379.8,306.7 L380.6,307.7 L381.5,308.7 L382.5,309.6 L382.5,311.3 L383.5,312.1 L384.9,312.6 L384.8,314.6 L386.1,315.4 L386.7,316.7 L387.6,317.9 L388.7,319.0 L389.9,320.0 L390.1,321.8 L392.4,322.1 L392.4,323.9 L393.0,325.2 L394.5,325.8 L394.9,327.4 L396.8,327.7 L397.4,329.2 L398.6,330.3" stroke="#ff0808" stroke-width="1.5" stroke-dasharray="3.2 1.4"/>
<path d="M324.3,243.6 L326.7,243.6 L326.4,245.6 L328.2,246.1 L327.8,248.3 L330.2,248.2 L329.7,250.5 L330.9,251.2 L331.5,252.4 L332.1,253.6 L334.1,253.5 L334.8,254.6 L335.1,256.1 L336.7,256.7 L337.8,257.8 L338.8,258.9 L338.9,260.8 L339.8,262.0 L340.8,263.0 L342.5,263.3 L342.3,265.3 L343.8,265.8 L345.1,266.6 L345.6,267.9 L346.5,269.0 L347.8,269.7 L347.9,271.3 L349.1,272.2 L349.6,273.5 L349.8,275.0 L351.2,276.0 L352.5,277.1 L352.3,278.9 L352.6,280.4 L354.2,281.4 L354.0,283.3 L356.5,283.4 L357.2,284.7 L358.0,285.9 L357.7,288.0 L358.8,288.8 L359.5,289.9 L360.9,290.5 L361.3,291.8 L361.4,293.4 L363.5,293.5 L364.3,294.6 L365.3,295.6 L365.5,297.2 L365.7,298.8 L367.0,299.7 L368.1,300.7 L368.7,302.0 L370.1,302.8 L369.7,304.9 L371.5,305.3 L372.5,306.2 L373.2,307.4 L373.3,309.1 L374.9,309.6 L374.9,311.4 L376.6,311.9 L377.3,313.2 L378.8,313.9 L378.3,316.0 L379.3,317.0 L380.5,318.0 L381.8,319.0 L381.9,320.7 L382.7,321.9 L382.6,323.6 L383.2,324.9 L384.3,325.9 L385.8,326.6 L386.9,327.6 L386.2,329.6 L386.8,330.9" stroke="#2e8b57" stroke-width="2.0" stroke-dasharray="2.6 1.6"/>
<path d="M326.3,242.8 L327.0,244.1 L328.0,245.2 L328.8,246.4 L329.8,247.6 L330.3,249.0 L331.8,249.7 L332.0,251.1 L333.8,251.3 L334.2,252.6 L335.0,253.6 L336.2,254.4 L336.1,256.1 L337.8,256.7 L338.1,258.5 L338.8,259.8 L340.9,260.0 L340.9,262.0 L341.9,263.0 L342.9,263.9 L344.8,264.2 L345.0,265.8 L345.6,267.1 L346.9,267.7 L347.9,268.7 L348.6,269.9 L349.5,271.0 L349.5,272.7 L351.0,273.2 L351.7,274.4 L352.3,276.0 L352.6,277.6 L354.4,278.4 L355.5,279.6 L354.4,281.8 L355.3,283.1 L356.3,284.3 L357.7,285.2 L359.0,286.0 L360.1,287.1 L360.5,288.4 L361.0,289.6 L362.4,290.3 L362.1,292.0 L362.7,293.2 L364.7,293.4 L364.3,295.5 L365.7,296.1 L365.8,297.7 L367.4,298.4 L367.7,299.9 L369.1,300.7 L369.6,302.1 L370.7,303.2 L372.3,303.8 L372.9,305.1 L373.6,306.2 L374.2,307.5 L375.1,308.6 L375.7,309.9 L376.3,311.1 L377.6,311.9 L378.6,313.0 L379.2,314.4 L379.3,316.0 L380.4,317.0 L381.3,318.2 L381.7,319.6 L383.4,320.4 L384.3,321.6 L385.0,322.9 L385.7,324.1 L386.6,325.1 L386.3,327.0 L386.5,328.5 L388.6,328.8 L388.4,330.6" stroke="#ff00ff" stroke-width="1.8" stroke-dasharray="2.0 2.8"/>
</g>
<g stroke="#1a1a1a" stroke-width="1.1" fill="none">
<rect x="84.5" y="3.5" width="328.0" height="326.9" stroke-width="1.3"/>
<path d="M123.96,330.4 v-6.5 M123.96,3.5 v6.5 M147.09,330.4 v-6.5 M147.09,3.5 v6.5 M163.51,330.4 v-6.5 M163.51,3.5 v6.5 M176.24,330.4 v-6.5 M176.24,3.5 v6.5 M186.65,330.4 v-6.5 M186.65,3.5 v6.5 M195.45,330.4 v-6.5 M195.45,3.5 v6.5 M203.07,330.4 v-6.5 M203.07,3.5 v6.5 M209.79,330.4 v-6.5 M209.79,3.5 v6.5 M215.80,330.4 v-13 M215.80,3.5 v13 M255.36,330.4 v-6.5 M255.36,3.5 v6.5 M278.49,330.4 v-6.5 M278.49,3.5 v6.5 M294.91,330.4 v-6.5 M294.91,3.5 v6.5 M307.64,330.4 v-6.5 M307.64,3.5 v6.5 M318.05,330.4 v-6.5 M318.05,3.5 v6.5 M326.85,330.4 v-6.5 M326.85,3.5 v6.5 M334.47,330.4 v-6.5 M334.47,3.5 v6.5 M341.19,330.4 v-6.5 M341.19,3.5 v6.5 M347.20,330.4 v-13 M347.20,3.5 v13 M386.76,330.4 v-6.5 M386.76,3.5 v6.5 M409.89,330.4 v-6.5 M409.89,3.5 v6.5 M84.5,312.50 h6.5 M412.5,312.50 h-6.5 M84.5,302.04 h6.5 M412.5,302.04 h-6.5 M84.5,294.61 h6.5 M412.5,294.61 h-6.5 M84.5,288.85 h6.5 M412.5,288.85 h-6.5 M84.5,284.14 h6.5 M412.5,284.14 h-6.5 M84.5,280.16 h6.5 M412.5,280.16 h-6.5 M84.5,276.71 h6.5 M412.5,276.71 h-6.5 M84.5,273.67 h6.5 M412.5,273.67 h-6.5 M84.5,270.95 h13 M412.5,270.95 h-13 M84.5,253.05 h6.5 M412.5,253.05 h-6.5 M84.5,242.59 h6.5 M412.5,242.59 h-6.5 M84.5,235.16 h6.5 M412.5,235.16 h-6.5 M84.5,229.40 h6.5 M412.5,229.40 h-6.5 M84.5,224.69 h6.5 M412.5,224.69 h-6.5 M84.5,220.71 h6.5 M412.5,220.71 h-6.5 M84.5,217.26 h6.5 M412.5,217.26 h-6.5 M84.5,214.22 h6.5 M412.5,214.22 h-6.5 M84.5,211.50 h13 M412.5,211.50 h-13 M84.5,193.60 h6.5 M412.5,193.60 h-6.5 M84.5,183.14 h6.5 M412.5,183.14 h-6.5 M84.5,175.71 h6.5 M412.5,175.71 h-6.5 M84.5,169.95 h6.5 M412.5,169.95 h-6.5 M84.5,165.24 h6.5 M412.5,165.24 h-6.5 M84.5,161.26 h6.5 M412.5,161.26 h-6.5 M84.5,157.81 h6.5 M412.5,157.81 h-6.5 M84.5,154.77 h6.5 M412.5,154.77 h-6.5 M84.5,152.05 h13 M412.5,152.05 h-13 M84.5,134.15 h6.5 M412.5,134.15 h-6.5 M84.5,123.69 h6.5 M412.5,123.69 h-6.5 M84.5,116.26 h6.5 M412.5,116.26 h-6.5 M84.5,110.50 h6.5 M412.5,110.50 h-6.5 M84.5,105.79 h6.5 M412.5,105.79 h-6.5 M84.5,101.81 h6.5 M412.5,101.81 h-6.5 M84.5,98.36 h6.5 M412.5,98.36 h-6.5 M84.5,95.32 h6.5 M412.5,95.32 h-6.5 M84.5,92.60 h13 M412.5,92.60 h-13 M84.5,74.70 h6.5 M412.5,74.70 h-6.5 M84.5,64.24 h6.5 M412.5,64.24 h-6.5 M84.5,56.81 h6.5 M412.5,56.81 h-6.5 M84.5,51.05 h6.5 M412.5,51.05 h-6.5 M84.5,46.34 h6.5 M412.5,46.34 h-6.5 M84.5,42.36 h6.5 M412.5,42.36 h-6.5 M84.5,38.91 h6.5 M412.5,38.91 h-6.5 M84.5,35.87 h6.5 M412.5,35.87 h-6.5 M84.5,33.15 h13 M412.5,33.15 h-13 M84.5,15.25 h6.5 M412.5,15.25 h-6.5 M84.5,4.79 h6.5 M412.5,4.79 h-6.5"/>
</g>
<path d="M110.8,241.3 H162.8" stroke="#0000ff" stroke-width="1.15" fill="none"/>
<path d="M110.8,259.3 H162.8" stroke="#111111" stroke-width="1.15" fill="none"/>
<path d="M110.8,277.3 H162.8" stroke="#ff0000" stroke-width="1.15" fill="none"/>
<path d="M110.4,294.8 H162.8" stroke="#2e8b57" stroke-width="1.5" fill="none" stroke-dasharray="2 3.98"/>
<path d="M110.4,312.7 H162.8" stroke="#ff00ff" stroke-width="1.5" fill="none" stroke-dasharray="2 3.98"/>
<g font-family="'Liberation Serif', serif" fill="#1a1a1a" style="filter:grayscale(1)">
<text x="163.04" y="242" font-size="21" textLength="12.64" lengthAdjust="spacingAndGlyphs" stroke="#1a1a1a" stroke-width="0.1">C</text>
<text x="176.00" y="242" font-size="21" textLength="13.58" lengthAdjust="spacingAndGlyphs" stroke="#1a1a1a" stroke-width="0.1">=</text>
<text x="190.08" y="242" font-size="21" textLength="11.22" lengthAdjust="spacingAndGlyphs" stroke="#1a1a1a" stroke-width="0.1">3</text>
<text x="201.07" y="242" font-size="21" textLength="11.67" lengthAdjust="spacingAndGlyphs" stroke="#1a1a1a" stroke-width="0.1">0</text>
<text x="163.04" y="260" font-size="21" textLength="12.64" lengthAdjust="spacingAndGlyphs" stroke="#1a1a1a" stroke-width="0.1">C</text>
<text x="176.00" y="260" font-size="21" textLength="13.58" lengthAdjust="spacingAndGlyphs" stroke="#1a1a1a" stroke-width="0.1">=</text>
<text x="191.11" y="260" font-size="21" textLength="8.29" lengthAdjust="spacingAndGlyphs" stroke="#1a1a1a" stroke-width="0.1">1</text>
<text x="200.31" y="260" font-size="21" textLength="12.38" lengthAdjust="spacingAndGlyphs" stroke="#1a1a1a" stroke-width="0.1">0</text>
<text x="223.70" y="260" font-size="21" textLength="6.66" lengthAdjust="spacingAndGlyphs" stroke="#1a1a1a" stroke-width="0.1">(</text>
<text x="230.91" y="260" font-size="21" textLength="12.83" lengthAdjust="spacingAndGlyphs" stroke="#1a1a1a" stroke-width="0.1">F</text>
<text x="243.51" y="260" font-size="21" textLength="6.53" lengthAdjust="spacingAndGlyphs" stroke="#1a1a1a" stroke-width="0.1">)</text>
<text x="163.04" y="278" font-size="21" textLength="12.64" lengthAdjust="spacingAndGlyphs" stroke="#1a1a1a" stroke-width="0.1">C</text>
<text x="176.00" y="278" font-size="21" textLength="13.58" lengthAdjust="spacingAndGlyphs" stroke="#1a1a1a" stroke-width="0.1">=</text>
<text x="189.53" y="278" font-size="21" textLength="11.72" lengthAdjust="spacingAndGlyphs" stroke="#1a1a1a" stroke-width="0.1">4</text>
<text x="163.49" y="295.6" font-size="21" textLength="8.52" lengthAdjust="spacingAndGlyphs" stroke="#1a1a1a" stroke-width="0.1">r</text>
<text x="172.48" y="300.8" font-size="12.5" textLength="6.74" lengthAdjust="spacingAndGlyphs" font-weight="bold">s</text>
<text x="179.76" y="295.6" font-size="21" textLength="12.86" lengthAdjust="spacingAndGlyphs" stroke="#1a1a1a" stroke-width="0.1">=</text>
<text x="193.50" y="295.6" font-size="21" textLength="12.50" lengthAdjust="spacingAndGlyphs" stroke="#1a1a1a" stroke-width="0.1">0</text>
<text x="207.22" y="295.6" font-size="21" textLength="4.17" lengthAdjust="spacingAndGlyphs" stroke="#1a1a1a" stroke-width="0.1">.</text>
<text x="211.64" y="295.6" font-size="21" textLength="12.02" lengthAdjust="spacingAndGlyphs" stroke="#1a1a1a" stroke-width="0.1">0</text>
<text x="223.18" y="295.6" font-size="21" textLength="12.63" lengthAdjust="spacingAndGlyphs" stroke="#1a1a1a" stroke-width="0.1">5</text>
<text x="236.04" y="295.6" font-size="21" textLength="11.56" lengthAdjust="spacingAndGlyphs" stroke="#1a1a1a" stroke-width="0.1">k</text>
<text x="248.05" y="295.6" font-size="21" textLength="11.57" lengthAdjust="spacingAndGlyphs" stroke="#1a1a1a" stroke-width="0.1">p</text>
<text x="258.88" y="295.6" font-size="21" textLength="10.18" lengthAdjust="spacingAndGlyphs" stroke="#1a1a1a" stroke-width="0.1">c</text>
<text x="163.49" y="313.4" font-size="21" textLength="8.52" lengthAdjust="spacingAndGlyphs" stroke="#1a1a1a" stroke-width="0.1">r</text>
<text x="172.48" y="318.59999999999997" font-size="12.5" textLength="6.74" lengthAdjust="spacingAndGlyphs" font-weight="bold">s</text>
<text x="179.76" y="313.4" font-size="21" textLength="12.86" lengthAdjust="spacingAndGlyphs" stroke="#1a1a1a" stroke-width="0.1">=</text>
<text x="193.50" y="313.4" font-size="21" textLength="12.50" lengthAdjust="spacingAndGlyphs" stroke="#1a1a1a" stroke-width="0.1">0</text>
<text x="207.22" y="313.4" font-size="21" textLength="4.17" lengthAdjust="spacingAndGlyphs" stroke="#1a1a1a" stroke-width="0.1">.</text>
<text x="211.51" y="313.4" font-size="21" textLength="12.13" lengthAdjust="spacingAndGlyphs" stroke="#1a1a1a" stroke-width="0.1">2</text>
<text x="223.45" y="313.4" font-size="21" textLength="11.35" lengthAdjust="spacingAndGlyphs" stroke="#1a1a1a" stroke-width="0.1">k</text>
<text x="235.45" y="313.4" font-size="21" textLength="11.69" lengthAdjust="spacingAndGlyphs" stroke="#1a1a1a" stroke-width="0.1">p</text>
<text x="246.67" y="313.4" font-size="21" textLength="10.30" lengthAdjust="spacingAndGlyphs" stroke="#1a1a1a" stroke-width="0.1">c</text>
<text x="62.30" y="355.8" font-size="21" textLength="43.59" lengthAdjust="spacingAndGlyphs" stroke="#1a1a1a" stroke-width="0.1">0.01</text>
<text x="200.05" y="355.8" font-size="21" textLength="29.67" lengthAdjust="spacingAndGlyphs" stroke="#1a1a1a" stroke-width="0.1">0.1</text>
<text x="342.13" y="355.8" font-size="21" textLength="9.29" lengthAdjust="spacingAndGlyphs" stroke="#1a1a1a" stroke-width="0.1">1</text>
<text x="180.18" y="382.7" font-size="21" textLength="13.87" lengthAdjust="spacingAndGlyphs" stroke="#1a1a1a" stroke-width="0.1">R</text>
<text x="194.89" y="382.7" font-size="21" textLength="10.22" lengthAdjust="spacingAndGlyphs" stroke="#1a1a1a" stroke-width="0.1">a</text>
<text x="205.76" y="382.7" font-size="21" textLength="11.98" lengthAdjust="spacingAndGlyphs" stroke="#1a1a1a" stroke-width="0.1">d</text>
<text x="219.47" y="382.7" font-size="21" textLength="6.02" lengthAdjust="spacingAndGlyphs" stroke="#1a1a1a" stroke-width="0.1">i</text>
<text x="226.62" y="382.7" font-size="21" textLength="12.55" lengthAdjust="spacingAndGlyphs" stroke="#1a1a1a" stroke-width="0.1">u</text>
<text x="240.25" y="382.7" font-size="21" textLength="10.25" lengthAdjust="spacingAndGlyphs" stroke="#1a1a1a" stroke-width="0.1">s</text>
<text x="261.59" y="382.7" font-size="21" textLength="7.44" lengthAdjust="spacingAndGlyphs" stroke="#1a1a1a" stroke-width="0.1">(</text>
<text x="270.90" y="382.7" font-size="21" textLength="12.50" lengthAdjust="spacingAndGlyphs" stroke="#1a1a1a" stroke-width="0.1">k</text>
<text x="283.92" y="382.7" font-size="21" textLength="12.81" lengthAdjust="spacingAndGlyphs" stroke="#1a1a1a" stroke-width="0.1">p</text>
<text x="296.11" y="382.7" font-size="21" textLength="12.07" lengthAdjust="spacingAndGlyphs" stroke="#1a1a1a" stroke-width="0.1">c</text>
<text x="308.52" y="382.7" font-size="21" textLength="7.56" lengthAdjust="spacingAndGlyphs" stroke="#1a1a1a" stroke-width="0.1">)</text>
<text x="41.30" y="337.7" font-size="21" textLength="24.48" lengthAdjust="spacingAndGlyphs" stroke="#1a1a1a" stroke-width="0.1">10</text>
<text stroke="#1a1a1a" stroke-width="0.25" x="65.23" y="331.6" font-size="11.9" textLength="8.12" lengthAdjust="spacingAndGlyphs">5</text>
<text x="41.30" y="278.2" font-size="21" textLength="24.48" lengthAdjust="spacingAndGlyphs" stroke="#1a1a1a" stroke-width="0.1">10</text>
<text stroke="#1a1a1a" stroke-width="0.25" x="65.51" y="272.1" font-size="11.9" textLength="7.65" lengthAdjust="spacingAndGlyphs">6</text>
<text x="41.30" y="218.8" font-size="21" textLength="24.48" lengthAdjust="spacingAndGlyphs" stroke="#1a1a1a" stroke-width="0.1">10</text>
<text stroke="#1a1a1a" stroke-width="0.25" x="65.16" y="212.7" font-size="11.9" textLength="8.02" lengthAdjust="spacingAndGlyphs">7</text>
<text x="41.30" y="159.3" font-size="21" textLength="24.48" lengthAdjust="spacingAndGlyphs" stroke="#1a1a1a" stroke-width="0.1">10</text>
<text stroke="#1a1a1a" stroke-width="0.25" x="65.58" y="153.2" font-size="11.9" textLength="7.74" lengthAdjust="spacingAndGlyphs">8</text>
<text x="41.30" y="99.9" font-size="21" textLength="24.48" lengthAdjust="spacingAndGlyphs" stroke="#1a1a1a" stroke-width="0.1">10</text>
<text stroke="#1a1a1a" stroke-width="0.25" x="65.75" y="93.8" font-size="11.9" textLength="7.56" lengthAdjust="spacingAndGlyphs">9</text>
<text x="34.17" y="40.4" font-size="21" textLength="23.68" lengthAdjust="spacingAndGlyphs" stroke="#1a1a1a" stroke-width="0.1">10</text>
<text stroke="#1a1a1a" stroke-width="0.25" x="59.12" y="34.4" font-size="12.3" textLength="13.10" lengthAdjust="spacingAndGlyphs">10</text>
</g>
<g font-family="'Liberation Serif', serif" fill="#1a1a1a" style="filter:grayscale(1)" transform="translate(19.7,0) rotate(-90)">
<text x="-260.26" y="0" font-size="21.5" textLength="13.44" lengthAdjust="spacingAndGlyphs">D</text>
<text x="-246.73" y="0" font-size="21.5" textLength="10.32" lengthAdjust="spacingAndGlyphs">e</text>
<text x="-234.57" y="0" font-size="21.5" textLength="11.30" lengthAdjust="spacingAndGlyphs">n</text>
<text x="-222.83" y="0" font-size="21.5" textLength="10.01" lengthAdjust="spacingAndGlyphs">s</text>
<text x="-211.18" y="0" font-size="21.5" textLength="5.32" lengthAdjust="spacingAndGlyphs">i</text>
<text x="-203.57" y="0" font-size="21.5" textLength="7.37" lengthAdjust="spacingAndGlyphs">t</text>
<text x="-194.03" y="0" font-size="21.5" textLength="11.34" lengthAdjust="spacingAndGlyphs">y</text>
<text x="-171.62" y="0" font-size="21.5" textLength="7.58" lengthAdjust="spacingAndGlyphs">(</text>
<text x="-164.35" y="0" font-size="21.5" textLength="16.18" lengthAdjust="spacingAndGlyphs">M</text>
<text x="-137.30" y="0" font-size="21.5" textLength="12.40" lengthAdjust="spacingAndGlyphs">k</text>
<text x="-123.25" y="0" font-size="21.5" textLength="11.69" lengthAdjust="spacingAndGlyphs">p</text>
<text x="-111.26" y="0" font-size="21.5" textLength="11.72" lengthAdjust="spacingAndGlyphs">c</text>
<text x="-81.07" y="0" font-size="21.5" textLength="7.43" lengthAdjust="spacingAndGlyphs">)</text>
<text x="-98.77" y="-5.6" font-size="14" textLength="8.73" lengthAdjust="spacingAndGlyphs">&#8722;</text>
<text x="-90.61" y="-5.9" font-size="14" textLength="9.15" lengthAdjust="spacingAndGlyphs">3</text>
</g>
<circle cx="21.1" cy="142.4" r="3.9" fill="none" stroke="#1a1a1a" stroke-width="1.0"/><circle cx="21.1" cy="142.4" r="0.9" fill="#1a1a1a"/>
</svg>
</body></html>
